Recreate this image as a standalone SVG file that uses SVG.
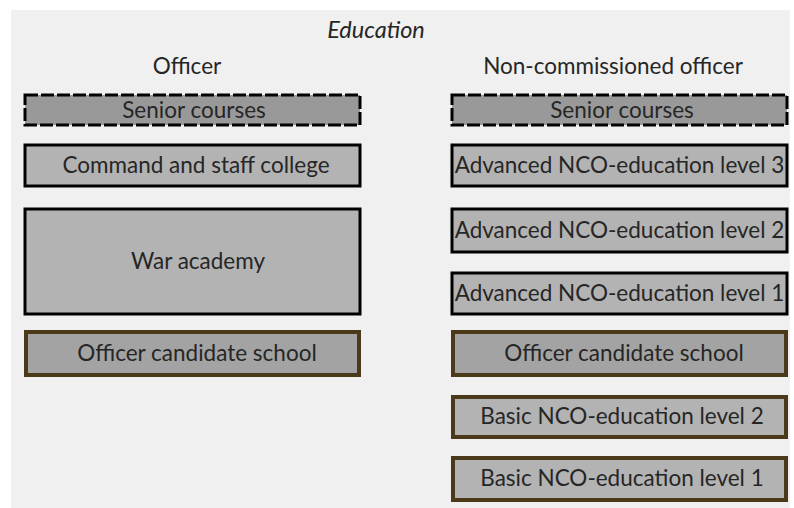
<svg xmlns="http://www.w3.org/2000/svg" width="794" height="508" viewBox="0 0 794 508">
<style>
  text { font-family: Lato, "Open Sans", "Liberation Sans", sans-serif; fill: #262626; text-anchor: middle; }
  .lbl { font-size: 22.5px; }
  .hdr { font-size: 22.5px; }
  .title { font-size: 23.5px; font-style: italic; }
  .dash { fill: #999999; stroke: #000000; stroke-width: 3; stroke-dasharray: 13 3; }
  .solid { fill: #b3b3b3; stroke: #000000; stroke-width: 3; }
  .ocs { fill: #a3a3a3; stroke: #4a3a1a; stroke-width: 4; }
  .basic { fill: #b3b3b3; stroke: #4a3a1a; stroke-width: 4; }
</style>
<rect x="0" y="0" width="794" height="508" fill="#ffffff"/>
<rect x="11" y="10" width="779" height="498" fill="#f0f0f0"/>
<text class="title" x="376" y="38">Education</text>
<text class="hdr" x="613" y="74">Non-commissioned officer</text>
<text class="hdr" x="187" y="74">Officer</text>

<g id="off-senior"><rect class="dash" x="25" y="95" width="335" height="30"/><text class="lbl" x="194" y="118">Senior courses</text></g>
<g id="off-csc"><rect class="solid" x="25" y="145" width="335" height="41"/><text class="lbl" x="196" y="173">Command and staff college</text></g>
<g id="off-war"><rect class="solid" x="25" y="209" width="335" height="105"/><text class="lbl" x="198" y="269">War academy</text></g>
<g id="off-ocs"><rect class="ocs" x="26" y="332" width="333" height="43"/><text class="lbl" x="197" y="361">Officer candidate school</text></g>

<g id="nco-senior"><rect class="dash" x="452" y="95" width="335" height="30"/><text class="lbl" x="622" y="118">Senior courses</text></g>
<g id="nco-adv3"><rect class="solid" x="452" y="145" width="335" height="41"/><text class="lbl" x="619.5" y="173">Advanced NCO-education level 3</text></g>
<g id="nco-adv2"><rect class="solid" x="452" y="209" width="335" height="43"/><text class="lbl" x="619.5" y="238">Advanced NCO-education level 2</text></g>
<g id="nco-adv1"><rect class="solid" x="452" y="273" width="335" height="41"/><text class="lbl" x="619.5" y="301">Advanced NCO-education level 1</text></g>
<g id="nco-ocs"><rect class="ocs" x="453" y="332" width="333" height="43"/><text class="lbl" x="624" y="361">Officer candidate school</text></g>
<g id="nco-basic2"><rect class="basic" x="453" y="397" width="333" height="40"/><text class="lbl" x="622" y="424">Basic NCO-education level 2</text></g>
<g id="nco-basic1"><rect class="basic" x="453" y="458" width="333" height="42"/><text class="lbl" x="622" y="486">Basic NCO-education level 1</text></g>
<g id="connectors"></g>
</svg>
